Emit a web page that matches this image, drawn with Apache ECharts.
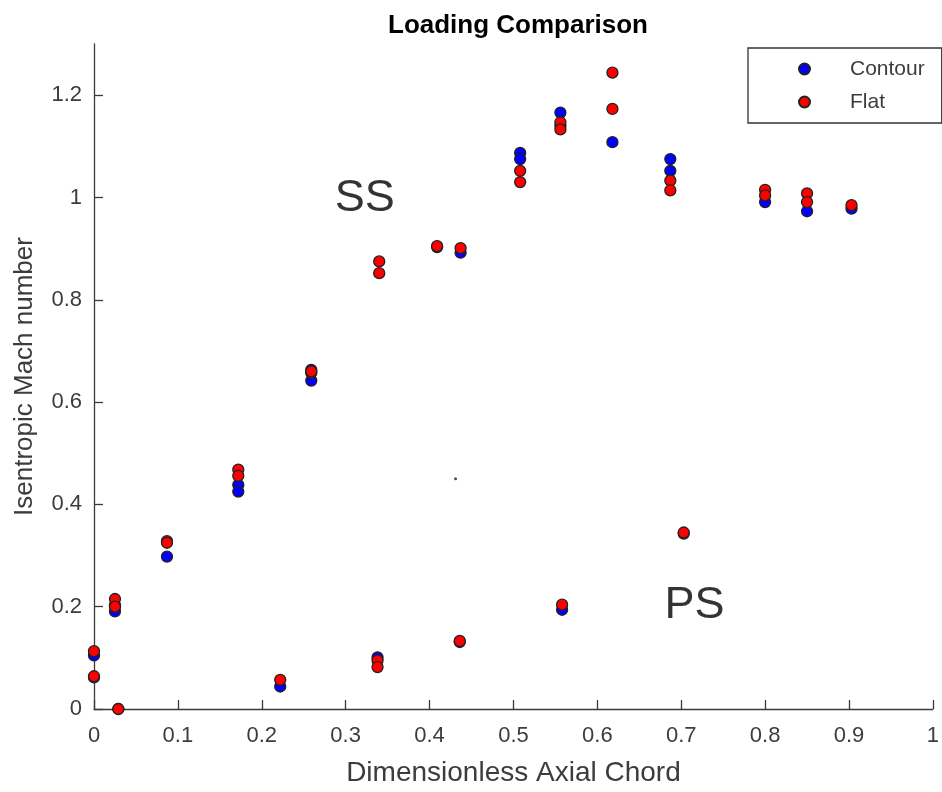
<!DOCTYPE html>
<html>
<head>
<meta charset="utf-8">
<title>Loading Comparison</title>
<script src="https://cdn.jsdelivr.net/npm/echarts@6/dist/echarts.min.js"></script>
<style>
  html, body { margin: 0; padding: 0; background: #fff; }
  #chart { width: 942px; height: 792px; }
</style>
</head>
<body>
<div id="chart"></div>
<script>
// Isentropic Mach number along the blade, contoured vs flat endwall
const contourX = [0.000, 0.000, 0.025, 0.025, 0.029, 0.087, 0.172, 0.172, 0.259, 0.259,
                  0.222, 0.338, 0.409, 0.437, 0.436, 0.508, 0.508, 0.556, 0.556, 0.558,
                  0.618, 0.687, 0.687, 0.703, 0.800, 0.850, 0.903];
const contourY = [0.105, 0.062, 0.191, 0.203, 0.000, 0.298, 0.438, 0.425, 0.642, 0.663,
                  0.044, 0.101, 0.903, 0.892, 0.131, 1.087, 1.075, 1.166, 1.140, 0.194,
                  1.108, 1.075, 1.052, 0.343, 0.991, 0.973, 0.978];

const flatX = [0.000, 0.000, 0.025, 0.025, 0.029, 0.087, 0.087, 0.172, 0.172, 0.259, 0.259,
               0.222, 0.338, 0.338, 0.340, 0.340, 0.409, 0.437, 0.436, 0.508, 0.508,
               0.556, 0.556, 0.558, 0.618, 0.618, 0.687, 0.687, 0.703, 0.800, 0.800,
               0.850, 0.850, 0.903];
const flatY = [0.113, 0.064, 0.215, 0.200, 0.000, 0.328, 0.325, 0.468, 0.456, 0.657, 0.660,
               0.057, 0.095, 0.082, 0.875, 0.852, 0.905, 0.901, 0.133, 1.052, 1.030,
               1.147, 1.133, 0.204, 1.244, 1.173, 1.033, 1.014, 0.345, 1.015, 1.004,
               1.008, 0.991, 0.985];

// stray point left in the plot
const strayX = [0.431];
const strayY = [0.450];

// surface annotations
const noteText = ['SS', 'PS'];
const noteX = [0.287, 0.680];
const noteY = [0.998, 0.202];

const xTicks = [0, 0.1, 0.2, 0.3, 0.4, 0.5, 0.6, 0.7, 0.8, 0.9, 1];
const yTicks = [0, 0.2, 0.4, 0.6, 0.8, 1.0, 1.2];

const pairs = (xs, ys) => xs.map((x, i) => [x, ys[i]]);

const FONT = "'Liberation Sans', Arial, Helvetica, sans-serif";
const AXIS_COLOR = '#3a3a3a';
const TEXT_COLOR = '#3c3c3c';

const chart = echarts.init(document.getElementById('chart'), null, { renderer: 'canvas' });

const axisCommon = {
  axisLine: { show: true, onZero: false, lineStyle: { color: AXIS_COLOR, width: 1.3 } },
  splitLine: { show: false },
  nameLocation: 'middle',
  nameTextStyle: { fontFamily: FONT, fontSize: 26, color: TEXT_COLOR }
};

chart.setOption({
  backgroundColor: '#ffffff',
  animation: false,
  title: {
    text: 'Loading Comparison',
    left: 513,
    textAlign: 'center',
    top: 8,
    textStyle: { fontFamily: FONT, fontSize: 26, fontWeight: 'bold', color: '#000', letterSpacing: 1.8 }
  },
  grid: { left: 94, right: 9, top: 44, bottom: 83, containLabel: false },
  legend: {
    orient: 'vertical',
    left: 748,
    top: 48,
    data: ['Contour', 'Flat'],
    padding: [10, 17, 10, 50],
    itemWidth: 11,
    itemHeight: 11,
    itemGap: 11,
    borderColor: '#333',
    borderWidth: 1.3,
    backgroundColor: '#fff',
    textStyle: { fontFamily: FONT, fontSize: 21, color: TEXT_COLOR, padding: [0, 0, 0, 35], lineHeight: 22 }
  },
  xAxis: Object.assign({}, axisCommon, {
    type: 'value',
    min: 0,
    max: 1,
    interval: 0.1,
    name: 'Dimensionless Axial Chord',
    nameGap: 50,
    nameTextStyle: { fontFamily: FONT, fontSize: 28, color: TEXT_COLOR },
    axisTick: { show: true, inside: true, length: 9, customValues: xTicks, lineStyle: { color: AXIS_COLOR, width: 1.3 } },
    axisLabel: { customValues: xTicks, margin: 16, fontFamily: FONT, fontSize: 22, color: TEXT_COLOR }
  }),
  yAxis: Object.assign({}, axisCommon, {
    type: 'value',
    min: 0,
    max: 1.3,
    interval: 0.1,
    name: 'Isentropic Mach number',
    nameGap: 56,
    axisTick: { show: true, inside: true, length: 9, customValues: yTicks, lineStyle: { color: AXIS_COLOR, width: 1.3 } },
    axisLabel: { customValues: yTicks, margin: 12, fontFamily: FONT, fontSize: 22, color: TEXT_COLOR }
  }),
  series: [
    {
      name: 'Contour',
      type: 'scatter',
      data: pairs(contourX, contourY),
      symbol: 'circle',
      symbolSize: 11,
      itemStyle: { color: '#0000ff', borderColor: '#222', borderWidth: 1.3, opacity: 1 },
      z: 2
    },
    {
      name: 'Flat',
      type: 'scatter',
      data: pairs(flatX, flatY),
      symbol: 'circle',
      symbolSize: 11,
      itemStyle: { color: '#ff0000', borderColor: '#222', borderWidth: 1.3, opacity: 1 },
      z: 3
    },
    {
      name: 'stray',
      type: 'scatter',
      data: pairs(strayX, strayY),
      symbol: 'circle',
      symbolSize: 3,
      itemStyle: { color: '#222' },
      silent: true,
      z: 1
    },
    {
      name: 'notes',
      type: 'scatter',
      data: noteText.map((t, i) => ({ name: t, value: [noteX[i], noteY[i]] })),
      symbolSize: 0,
      silent: true,
      label: {
        show: true,
        position: 'inside',
        align: 'left',
        verticalAlign: 'middle',
        formatter: p => p.name,
        fontFamily: FONT,
        fontSize: 45,
        color: '#000',
        textBorderWidth: 0
      },
      z: 4
    }
  ]
});
</script>
</body>
</html>
